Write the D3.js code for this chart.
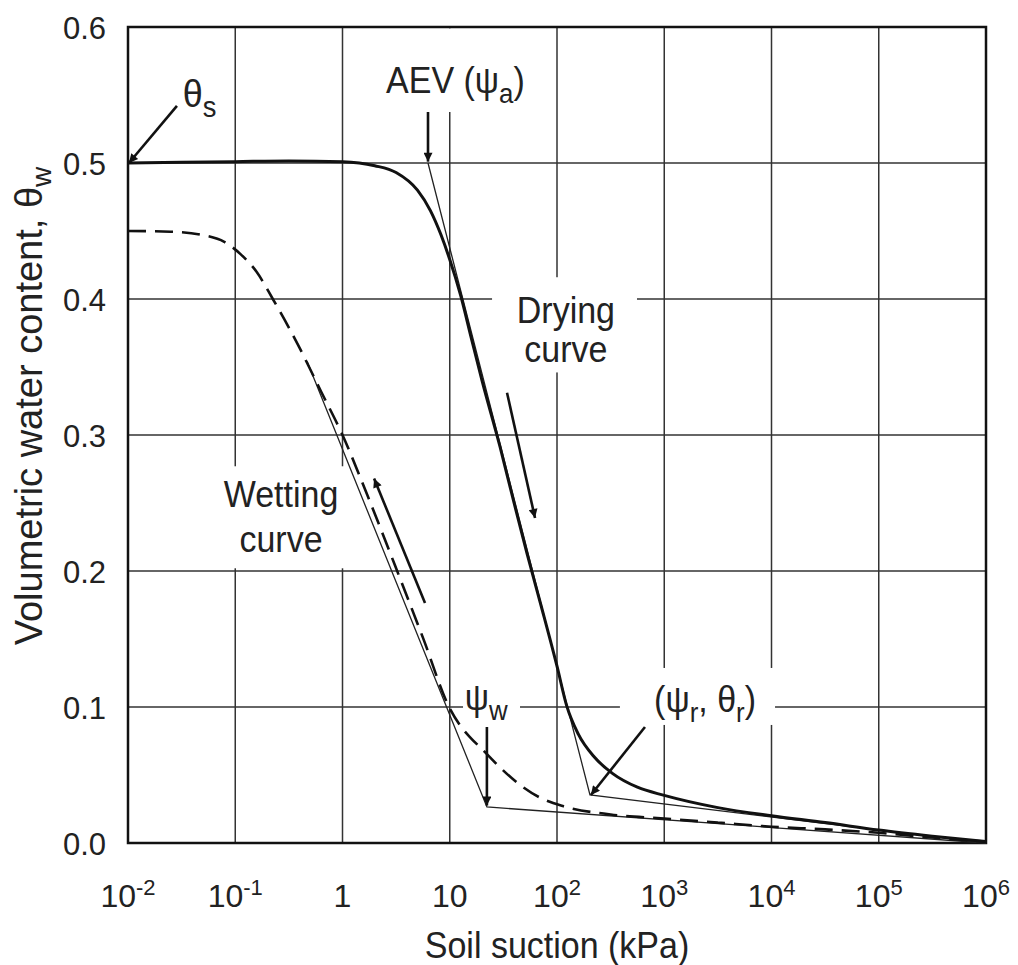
<!DOCTYPE html>
<html><head><meta charset="utf-8">
<script src="https://cdn.jsdelivr.net/npm/d3@7"></script>
<style>body{margin:0;background:#fff}svg{display:block}</style>
</head><body><svg id="c" width="1018" height="965"></svg>
<script>
// ---------- data ----------
const xTickValues = [1e-2, 1e-1, 1, 10, 1e2, 1e3, 1e4, 1e5, 1e6];
const xTickBase = ["10", "10", "1", "10", "10", "10", "10", "10", "10"];
const xTickExp = ["-2", "-1", "", "", "2", "3", "4", "5", "6"];
const yTickValues = [0, 0.1, 0.2, 0.3, 0.4, 0.5, 0.6];
const yTickLabels = ["0.0", "0.1", "0.2", "0.3", "0.4", "0.5", "0.6"];

const dryingSuction = [0.01, 0.0316, 0.1, 0.316, 1, 2.0, 3.16, 5.0, 6.6, 8.3, 10, 12.6, 15.8, 20, 29.5, 39.8, 52.5, 70.8, 100, 123, 158, 224, 331, 562, 1000, 3162, 1e4, 31623, 1e5, 316228, 1e6];
const dryingTheta = [0.500, 0.5005, 0.501, 0.5015, 0.501, 0.498, 0.493, 0.480, 0.465, 0.447, 0.429, 0.403, 0.372, 0.340, 0.291, 0.250, 0.213, 0.175, 0.130, 0.101, 0.080, 0.063, 0.051, 0.041, 0.035, 0.026, 0.020, 0.015, 0.0095, 0.005, 0.001];

const wettingSuction = [0.01, 0.025, 0.05, 0.079, 0.112, 0.158, 0.224, 0.316, 0.398, 0.631, 1, 1.7, 3.09, 5.62, 10, 12.6, 15.8, 20, 28.2, 44.7, 70.8, 115, 316, 1000, 3162, 1e4, 31623, 1e5, 316228, 1e6];
const wettingTheta = [0.450, 0.4495, 0.447, 0.442, 0.433, 0.420, 0.400, 0.379, 0.364, 0.332, 0.300, 0.256, 0.204, 0.151, 0.099, 0.086, 0.077, 0.069, 0.057, 0.043, 0.033, 0.027, 0.021, 0.018, 0.015, 0.012, 0.010, 0.0075, 0.004, 0.001];

// construction (tangent) lines
const dryingTangentSuction = [6.27, 203, 1e6];
const dryingTangentTheta = [0.500, 0.0353, 0.0];
const wettingTangentSuction = [0.468, 22.2, 1e6];
const wettingTangentTheta = [0.354, 0.0265, 0.0];

// ---------- setup ----------
const svg = d3.select("#c");
const x = d3.scaleLog().domain([1e-2, 1e6]).range([128, 986]);
const y = d3.scaleLinear().domain([0, 0.6]).range([843, 27]);
const FONT = "'Liberation Sans', Arial, Helvetica, sans-serif";

svg.append("defs").append("marker")
  .attr("id", "ah").attr("viewBox", "0 0 10 10")
  .attr("refX", 10).attr("refY", 5)
  .attr("markerWidth", 14).attr("markerHeight", 9)
  .attr("markerUnits", "userSpaceOnUse")
  .attr("orient", "auto")
  .append("path").attr("d", "M0,0 L10,5 L0,10 Z").attr("fill", "#111");

// grid
const grid = svg.append("g").attr("stroke", "#333").attr("stroke-width", 1.5);
grid.selectAll("line.v").data(xTickValues).join("line")
  .attr("x1", d => x(d)).attr("x2", d => x(d)).attr("y1", y(0)).attr("y2", y(0.6));
grid.selectAll("line.h").data(yTickValues).join("line")
  .attr("y1", d => y(d)).attr("y2", d => y(d)).attr("x1", x(1e-2)).attr("x2", x(1e6));

// white boxes behind labels (interrupt grid)
const boxX0 = [2.01, 24.8, 0.0607, 13.3, 386];
const boxX1 = [62.4, 557, 1.125, 45.2, 10790];
const boxY0 = [0.599, 0.416, 0.277, 0.106, 0.1287];
const boxY1 = [0.5375, 0.346, 0.202, 0.094, 0.0868];
svg.append("g").selectAll("rect").data(boxX0).join("rect")
  .attr("x", (d, i) => x(boxX0[i])).attr("width", (d, i) => x(boxX1[i]) - x(boxX0[i]))
  .attr("y", (d, i) => y(boxY0[i])).attr("height", (d, i) => y(boxY1[i]) - y(boxY0[i]))
  .attr("fill", "#fff");

// frame
const frame = svg.append("g").attr("stroke", "#111").attr("stroke-width", 2.5).attr("fill", "none");
frame.append("rect").attr("x", x(1e-2)).attr("y", y(0.6))
  .attr("width", x(1e6) - x(1e-2)).attr("height", y(0) - y(0.6));

// axes tick labels
const xt = svg.append("g").attr("font-family", FONT).attr("fill", "#222");
xTickValues.forEach((v, i) => {
  const t = xt.append("text").attr("text-anchor", "middle")
    .attr("transform", `translate(${x(v)},907)`).attr("font-size", 32);
  t.append("tspan").text(xTickBase[i]);
  if (xTickExp[i]) t.append("tspan").attr("font-size", 22).attr("dy", -12).text(xTickExp[i]);
});
const yt = svg.append("g").attr("font-family", FONT).attr("fill", "#222");
yTickValues.forEach((v, i) => {
  yt.append("text").attr("text-anchor", "end").attr("x", 106).attr("y", y(v) + 12)
    .attr("font-size", 31).text(yTickLabels[i]);
});

// axis titles
svg.append("text").attr("font-family", FONT).attr("fill", "#222").attr("font-size", 34)
  .attr("text-anchor", "middle")
  .attr("transform", "translate(557,958) scale(1,1.1)")
  .text("Soil suction (kPa)");
const yTitle = svg.append("text").attr("font-family", FONT).attr("fill", "#222").attr("font-size", 38)
  .attr("text-anchor", "middle")
  .attr("transform", "translate(42,406) rotate(-90)");
yTitle.append("tspan").text("Volumetric water content, θ");
yTitle.append("tspan").attr("font-size", 28).attr("dy", 9).text("w");

// construction lines (thin)
const lineGen = d3.line().x(d => x(d[0])).y(d => y(d[1]));
svg.append("path").datum(dryingTangentSuction.map((s, i) => [s, dryingTangentTheta[i]]))
  .attr("d", lineGen).attr("fill", "none").attr("stroke", "#222").attr("stroke-width", 1.3);
svg.append("path").datum(wettingTangentSuction.map((s, i) => [s, wettingTangentTheta[i]]))
  .attr("d", lineGen).attr("fill", "none").attr("stroke", "#222").attr("stroke-width", 1.3);

// curves
const curveGen = d3.line().x(d => x(d[0])).y(d => y(d[1])).curve(d3.curveMonotoneX);
svg.append("path").datum(dryingSuction.map((s, i) => [s, dryingTheta[i]]))
  .attr("d", curveGen).attr("fill", "none").attr("stroke", "#111").attr("stroke-width", 3);
svg.append("path").datum(wettingSuction.map((s, i) => [s, wettingTheta[i]]))
  .attr("d", curveGen).attr("fill", "none").attr("stroke", "#111").attr("stroke-width", 2.6)
  .attr("stroke-dasharray", "18,9");

// arrows (data coords: from -> to)
const arrowFromS = [0.0286, 6.27, 34.2, 5.88, 22.2, 661];
const arrowFromT = [0.542, 0.5375, 0.331, 0.1765, 0.0853, 0.0853];
const arrowToS = [0.0102, 6.27, 62.4, 1.97, 22.2, 207];
const arrowToT = [0.5, 0.501, 0.239, 0.268, 0.0275, 0.0353];
svg.append("g").selectAll("line").data(arrowFromS).join("line")
  .attr("x1", (d, i) => x(arrowFromS[i])).attr("y1", (d, i) => y(arrowFromT[i]))
  .attr("x2", (d, i) => x(arrowToS[i])).attr("y2", (d, i) => y(arrowToT[i]))
  .attr("stroke", "#111").attr("stroke-width", 2.6).attr("marker-end", "url(#ah)");

// annotation labels
function label(sx, th, anchor, parts, fs) {
  const t = svg.append("text").attr("font-family", FONT).attr("fill", "#222")
    .attr("font-size", fs).attr("text-anchor", anchor)
    .attr("transform", `translate(${x(sx)},${y(th)}) scale(1,1.1)`);
  let shift = 0;
  parts.forEach(p => {
    const sp = t.append("tspan").text(p[0]);
    const target = p[1] ? 9 : 0;
    if (target !== shift) { sp.attr("dy", target - shift); shift = target; }
    if (p[1]) sp.attr("font-size", fs * 0.76);
  });
  return t;
}
label(0.0324, 0.541, "start", [["θ", 0], ["s", 1]], 36);
label(11.3, 0.5515, "middle", [["AEV (ψ", 0], ["a", 1], [")", 0]], 34);
label(121, 0.3824, "middle", [["Drying", 0]], 34);
label(121, 0.354, "middle", [["curve", 0]], 34);
label(0.267, 0.247, "middle", [["Wetting", 0]], 34);
label(0.267, 0.214, "middle", [["curve", 0]], 34);
label(13.8, 0.098, "start", [["ψ", 0], ["w", 1]], 34);
label(2400, 0.096, "middle", [["(ψ", 0], ["r", 1], [", θ", 0], ["r", 1], [")", 0]], 34);
</script></body></html>
